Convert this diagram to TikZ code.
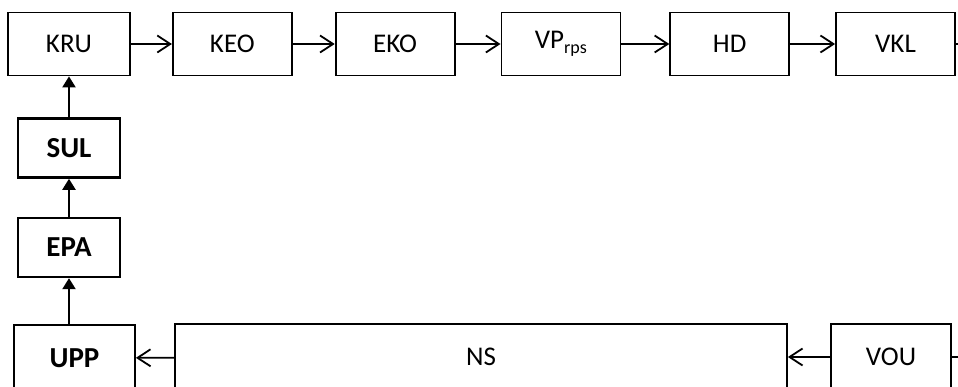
\documentclass[tikz,border=0pt]{standalone}
\usepackage{fontspec}
\setmainfont{Carlito}
\usetikzlibrary{arrows.meta,positioning}

\begin{document}
\begin{tikzpicture}[x=1pt, y=-1pt,
      blk/.style={draw, line width=1.8pt, minimum width=119pt,
                  minimum height=63pt, inner sep=0pt,
                  font=\fontsize{27}{30}\selectfont},
      sblk/.style={draw, line width=2.4pt, minimum width=102pt,
                  minimum height=59pt, inner sep=0pt,
                  font=\fontsize{29}{32}\selectfont\bfseries},
      arr/.style={-{Straight Barb[length=13pt,width=17pt]}, line width=1.8pt},
      uarr/.style={-{Triangle[length=11pt,width=13pt]}, line width=2.2pt}
  ]
    \useasboundingbox (0,0) rectangle (958,387);
    \clip (0,0) rectangle (958,387);
    \node[blk, minimum width=122pt] (kru) at (69,44) {KRU};
    \node[blk, right=41pt of kru] (keo) {KEO};
    \node[blk, right=42pt of keo] (eko) {EKO};
    \node[blk, right=45pt of eko] (vp) {VP\raisebox{-0.35ex}{\fontsize{18}{20}\selectfont rps}};
    \node[blk, right=48pt of vp] (hd) {HD};
    \node[blk, right=45pt of hd] (vkl) {VKL};
    \coordinate (vklout) at (958,44);
    \node[sblk, below=41pt of kru] (sul) {SUL};
    \node[sblk, below=38pt of sul] (epa) {EPA};
    \node[blk, minimum width=121pt, minimum height=66pt,
          font=\fontsize{29}{32}\selectfont\bfseries] (upp) at (74.5,358) {UPP};
    \node[blk, minimum width=612pt, minimum height=66pt] (ns) at (481,357) {NS};
    \node[blk, minimum width=120pt, minimum height=66pt] (vou) at (891,357) {VOU};
    \coordinate (vouin) at (958,357);
    \draw[arr] (kru) -- (keo);
    \draw[arr] (keo) -- (eko);
    \draw[arr] (eko) -- (vp);
    \draw[arr] (vp) -- (hd);
    \draw[arr] (hd) -- (vkl);
    \draw[line width=1.8pt] (vkl) -- (vklout);
    \draw[line width=1.8pt] (vouin) -- (vou);
    \draw[arr] (vou) -- (ns);
    \draw[arr] (ns) -- (upp);
    \draw[uarr] (epa.south |- upp.north) -- (epa);
    \draw[uarr] (epa) -- (sul);
    \draw[uarr] (sul) -- (kru);
  \end{tikzpicture}
\end{document}
